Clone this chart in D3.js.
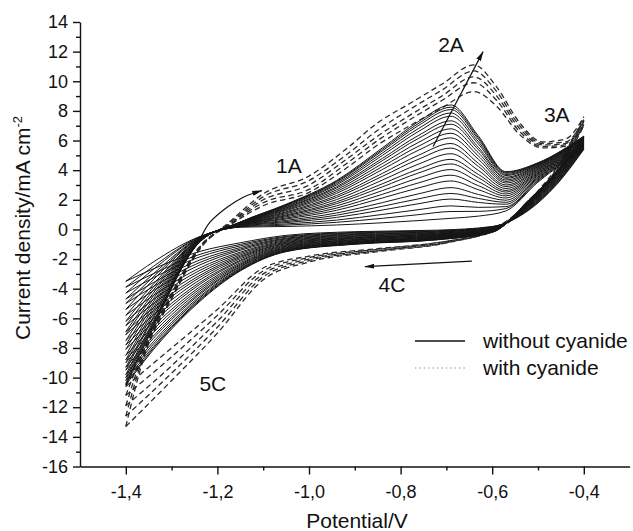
<!DOCTYPE html>
<html>
<head>
<meta charset="utf-8">
<script src="https://cdn.jsdelivr.net/npm/d3@7"></script>
<style>
  html, body { margin: 0; padding: 0; background: #fff; }
  svg { display: block; font-family: "Liberation Sans", Arial, Helvetica, sans-serif; }
</style>
</head>
<body>
<svg id="chart" width="633" height="531"></svg>
<script>
// Potential grids (V) for the anodic (forward) and cathodic (reverse) sweeps
const solidFwdE = [-1.4, -1.34, -1.24, -1.15, -1.05, -0.94, -0.84, -0.76, -0.69, -0.63, -0.57, -0.5, -0.4];
const solidRevE = [-0.4, -0.46, -0.52, -0.6, -0.72, -0.9, -1.05, -1.15, -1.24, -1.32, -1.4];

// Current density (mA cm-2), successive cycles without cyanide, anodic sweep
const solidFwd = [
  [-3.5, -2.2, -0.50, 0.15, 0.20, 0.30, 0.45, 0.60, 0.75, 0.90, 1.25, 3.20, 5.40],
  [-3.9, -2.5, -0.52, 0.17, 0.29, 0.48, 0.75, 1.00, 1.21, 1.22, 1.41, 3.28, 5.45],
  [-4.3, -2.7, -0.54, 0.19, 0.37, 0.63, 1.01, 1.34, 1.59, 1.49, 1.54, 3.34, 5.50],
  [-4.7, -3.0, -0.57, 0.21, 0.46, 0.81, 1.31, 1.74, 2.05, 1.82, 1.70, 3.42, 5.55],
  [-5.0, -3.2, -0.59, 0.23, 0.53, 0.96, 1.56, 2.07, 2.43, 2.09, 1.83, 3.49, 5.60],
  [-5.4, -3.4, -0.61, 0.24, 0.61, 1.11, 1.81, 2.41, 2.82, 2.36, 1.97, 3.55, 5.64],
  [-5.8, -3.7, -0.63, 0.27, 0.70, 1.29, 2.12, 2.81, 3.27, 2.68, 2.12, 3.63, 5.70],
  [-6.2, -3.9, -0.65, 0.28, 0.77, 1.44, 2.37, 3.15, 3.66, 2.95, 2.26, 3.69, 5.74],
  [-6.5, -4.1, -0.67, 0.30, 0.85, 1.59, 2.62, 3.48, 4.04, 3.22, 2.39, 3.76, 5.79],
  [-6.9, -4.3, -0.69, 0.32, 0.92, 1.74, 2.87, 3.82, 4.42, 3.49, 2.52, 3.82, 5.83],
  [-7.1, -4.5, -0.71, 0.33, 0.98, 1.86, 3.08, 4.08, 4.73, 3.71, 2.63, 3.88, 5.87],
  [-7.5, -4.7, -0.73, 0.35, 1.06, 2.01, 3.33, 4.42, 5.11, 3.98, 2.76, 3.94, 5.91],
  [-7.8, -4.9, -0.75, 0.37, 1.13, 2.16, 3.58, 4.75, 5.49, 4.25, 2.89, 4.01, 5.96],
  [-8.1, -5.1, -0.76, 0.38, 1.19, 2.28, 3.78, 5.02, 5.80, 4.46, 3.00, 4.06, 5.99],
  [-8.5, -5.3, -0.78, 0.40, 1.27, 2.43, 4.04, 5.36, 6.18, 4.73, 3.13, 4.12, 6.04],
  [-8.8, -5.5, -0.80, 0.41, 1.33, 2.55, 4.24, 5.63, 6.49, 4.95, 3.24, 4.18, 6.08],
  [-9.0, -5.7, -0.82, 0.43, 1.39, 2.67, 4.44, 5.89, 6.79, 5.17, 3.34, 4.23, 6.11],
  [-9.3, -5.9, -0.83, 0.44, 1.45, 2.79, 4.64, 6.16, 7.10, 5.38, 3.45, 4.28, 6.15],
  [-9.5, -6.0, -0.84, 0.45, 1.49, 2.88, 4.79, 6.36, 7.33, 5.54, 3.53, 4.32, 6.17],
  [-9.8, -6.2, -0.86, 0.47, 1.55, 3.00, 4.99, 6.63, 7.64, 5.76, 3.64, 4.37, 6.21],
  [-10.0, -6.3, -0.87, 0.48, 1.60, 3.09, 5.15, 6.83, 7.86, 5.92, 3.71, 4.41, 6.24],
  [-10.2, -6.4, -0.88, 0.49, 1.64, 3.18, 5.30, 7.03, 8.09, 6.08, 3.79, 4.45, 6.26],
  [-10.4, -6.5, -0.89, 0.49, 1.67, 3.24, 5.40, 7.17, 8.25, 6.19, 3.85, 4.47, 6.28],
  [-10.5, -6.6, -0.90, 0.50, 1.70, 3.30, 5.50, 7.30, 8.40, 6.30, 3.90, 4.50, 6.30]
];

// Same cycles, cathodic sweep
const solidRev = [
  [5.40, 3.00, 1.30, 0.20, -0.05, -0.15, -0.40, -0.90, -1.50, -2.40, -3.5],
  [5.45, 3.05, 1.34, 0.18, -0.09, -0.20, -0.47, -1.01, -1.70, -2.70, -3.9],
  [5.50, 3.10, 1.38, 0.16, -0.12, -0.24, -0.52, -1.11, -1.87, -2.95, -4.3],
  [5.55, 3.15, 1.42, 0.13, -0.16, -0.29, -0.59, -1.22, -2.08, -3.25, -4.7],
  [5.60, 3.20, 1.45, 0.11, -0.19, -0.34, -0.64, -1.32, -2.25, -3.50, -5.0],
  [5.64, 3.24, 1.49, 0.09, -0.23, -0.38, -0.70, -1.41, -2.42, -3.75, -5.4],
  [5.70, 3.30, 1.53, 0.07, -0.26, -0.43, -0.76, -1.53, -2.62, -4.05, -5.8],
  [5.74, 3.34, 1.57, 0.05, -0.30, -0.47, -0.82, -1.62, -2.79, -4.30, -6.2],
  [5.79, 3.39, 1.60, 0.03, -0.33, -0.52, -0.87, -1.72, -2.96, -4.55, -6.5],
  [5.83, 3.43, 1.64, 0.01, -0.36, -0.56, -0.93, -1.81, -3.13, -4.80, -6.9],
  [5.87, 3.47, 1.66, -0.01, -0.39, -0.59, -0.97, -1.89, -3.27, -5.00, -7.1],
  [5.91, 3.51, 1.70, -0.03, -0.42, -0.63, -1.03, -1.98, -3.44, -5.25, -7.5],
  [5.96, 3.56, 1.73, -0.05, -0.45, -0.68, -1.08, -2.08, -3.61, -5.50, -7.8],
  [5.99, 3.59, 1.76, -0.06, -0.48, -0.71, -1.13, -2.15, -3.74, -5.70, -8.1],
  [6.04, 3.64, 1.80, -0.08, -0.51, -0.75, -1.18, -2.25, -3.91, -5.95, -8.5],
  [6.08, 3.68, 1.83, -0.10, -0.54, -0.79, -1.23, -2.33, -4.05, -6.15, -8.8],
  [6.11, 3.71, 1.85, -0.12, -0.56, -0.82, -1.27, -2.40, -4.19, -6.35, -9.0],
  [6.15, 3.75, 1.88, -0.13, -0.59, -0.86, -1.31, -2.48, -4.32, -6.55, -9.3],
  [6.17, 3.77, 1.90, -0.14, -0.61, -0.88, -1.35, -2.53, -4.42, -6.70, -9.5],
  [6.21, 3.81, 1.93, -0.16, -0.64, -0.92, -1.39, -2.61, -4.56, -6.90, -9.8],
  [6.24, 3.84, 1.95, -0.17, -0.65, -0.94, -1.42, -2.67, -4.66, -7.05, -10.0],
  [6.26, 3.86, 1.97, -0.18, -0.67, -0.97, -1.46, -2.72, -4.76, -7.20, -10.2],
  [6.28, 3.88, 1.99, -0.19, -0.69, -0.98, -1.48, -2.76, -4.83, -7.30, -10.4],
  [6.30, 3.90, 2.00, -0.20, -0.70, -1.00, -1.50, -2.80, -4.90, -7.40, -10.5]
];

// Cycles with cyanide
const dashFwdE = [-1.4, -1.36, -1.3, -1.24, -1.17, -1.1, -1.0, -0.92, -0.85, -0.78, -0.71, -0.64, -0.59, -0.54, -0.49, -0.44, -0.4];
const dashRevE = [-0.4, -0.45, -0.5, -0.55, -0.6, -0.7, -0.85, -1.0, -1.1, -1.2, -1.3, -1.4];
const dashFwd = [
  [-10.6, -8.0, -4.3, -1.2, 0.35, 1.6, 2.5, 4.1, 5.7, 7.0, 8.2, 9.3, 8.3, 6.4, 5.5, 5.6, 7.0],
  [-11.2, -8.1, -4.4, -1.25, 0.40, 1.8, 2.7, 4.4, 6.0, 7.4, 8.7, 9.9, 8.7, 6.6, 5.6, 5.7, 7.1],
  [-11.9, -8.2, -4.5, -1.3, 0.45, 2.0, 3.0, 4.7, 6.3, 7.7, 9.0, 10.3, 9.0, 6.8, 5.7, 5.8, 7.3],
  [-12.6, -8.4, -4.6, -1.35, 0.50, 2.2, 3.3, 5.0, 6.7, 8.1, 9.4, 10.7, 9.3, 7.0, 5.8, 5.9, 7.4],
  [-13.3, -8.6, -4.7, -1.4, 0.60, 2.4, 3.6, 5.4, 7.2, 8.5, 9.8, 11.1, 9.6, 7.2, 5.9, 6.1, 7.6]
];
const dashRev = [
  [7.0, 4.2, 2.30, 0.80, -0.15, -0.80, -1.30, -1.8, -2.6, -5.4, -8.0, -10.6],
  [7.1, 4.3, 2.40, 0.85, -0.10, -0.80, -1.35, -1.9, -2.8, -5.8, -8.6, -11.2],
  [7.3, 4.4, 2.45, 0.90, -0.10, -0.85, -1.40, -2.0, -3.0, -6.2, -9.2, -11.9],
  [7.4, 4.5, 2.50, 0.95, -0.05, -0.90, -1.45, -2.1, -3.2, -6.6, -9.7, -12.6],
  [7.6, 4.6, 2.60, 1.00, 0.00, -0.90, -1.50, -2.2, -3.4, -7.0, -10.2, -13.3]
];

// Axis ticks
const xTicks = [-1.4, -1.2, -1.0, -0.8, -0.6, -0.4];
const xMinor = [-1.3, -1.1, -0.9, -0.7, -0.5];
const yTicks = [-16, -14, -12, -10, -8, -6, -4, -2, 0, 2, 4, 6, 8, 10, 12, 14];
const yMinor = [-15, -13, -11, -9, -7, -5, -3, -1, 1, 3, 5, 7, 9, 11, 13];

// Peak labels (potential, current density)
const peakNames = ["1A", "2A", "3A", "4C", "5C"];
const peakE = [-1.044, -0.690, -0.459, -0.819, -1.210];
const peakJ = [3.82, 11.98, 7.26, -4.20, -10.88];

// Scan-direction arrows (potential, current density)
const arrow1A = [[-1.238, -0.67], [-1.2166, 0.47], [-1.1795, 1.48], [-1.1445, 2.16], [-1.103, 2.62]];
const arrow2A = [[-0.729, 5.6], [-0.620, 12.0]];
const arrow4C = [[-0.6445, -2.14], [-0.878, -2.51]];

const legendNames = ["without cyanide", "with cyanide"];

const svg = d3.select("#chart");
const x = d3.scaleLinear().domain([-1.5, -0.3]).range([80, 629.6]);
const y = d3.scaleLinear().domain([-16, 14]).range([466.5, 22]);

const defs = svg.append("defs");
defs.append("marker")
  .attr("id", "head")
  .attr("viewBox", "0 0 10 6")
  .attr("refX", 9.5).attr("refY", 3)
  .attr("markerUnits", "userSpaceOnUse")
  .attr("markerWidth", 10).attr("markerHeight", 6)
  .attr("orient", "auto")
  .append("path").attr("d", "M0,0.5 L10,3 L0,5.5 Z").attr("fill", "#111");

// Sweep path builder: points are ordered by potential so monotone smoothing applies
const sweep = d3.line()
  .x(d => x(d[0]))
  .y(d => y(d[1]))
  .curve(d3.curveMonotoneX);

function pairs(E, J) {
  return E.map((e, i) => [e, J[i]]).sort((a, b) => a[0] - b[0]);
}

const curves = svg.append("g").attr("fill", "none");

// with cyanide (drawn first, the solid bundle sits over it)
dashFwd.forEach((row, c) => {
  curves.append("path")
    .attr("d", sweep(pairs(dashFwdE, row)))
    .attr("stroke", "#2a2a2a").attr("stroke-width", 1.3)
    .attr("stroke-dasharray", "5.5,3.5");
  curves.append("path")
    .attr("d", sweep(pairs(dashRevE, dashRev[c])))
    .attr("stroke", "#2a2a2a").attr("stroke-width", 1.3)
    .attr("stroke-dasharray", "5.5,3.5");
});

// without cyanide
solidFwd.forEach((row, c) => {
  curves.append("path")
    .attr("d", sweep(pairs(solidFwdE, row)))
    .attr("stroke", "#151515").attr("stroke-width", 1.0);
  curves.append("path")
    .attr("d", sweep(pairs(solidRevE, solidRev[c])))
    .attr("stroke", "#151515").attr("stroke-width", 1.0);
});

// Axes
const axisColor = "#111";
function styleAxis(g) {
  g.select(".domain").attr("stroke", axisColor).attr("stroke-width", 1.4);
  g.selectAll(".tick line").attr("stroke", axisColor).attr("stroke-width", 1.4);
  g.selectAll(".tick text").attr("fill", "#111").style("font-size", "18px")
    .style("font-family", '"Liberation Sans", Arial, sans-serif');
}
const fmtX = d => (d < 0 ? "-" : "") + Math.abs(d).toFixed(1).replace(".", ",");
const fmtY = d => (d < 0 ? "-" : "") + Math.abs(d);

svg.append("g")
  .attr("transform", `translate(0,${y(-16)})`)
  .call(d3.axisBottom(x).tickValues(xMinor).tickSize(4).tickFormat(""))
  .call(g => g.select(".domain").remove())
  .call(styleAxis);
svg.append("g")
  .attr("transform", `translate(${x(-1.5)},0)`)
  .call(d3.axisLeft(y).tickValues(yMinor).tickSize(4).tickFormat(""))
  .call(g => g.select(".domain").remove())
  .call(styleAxis);

svg.append("g")
  .attr("transform", `translate(0,${y(-16)})`)
  .call(d3.axisBottom(x).tickValues(xTicks).tickSize(8).tickSizeOuter(0).tickPadding(11).tickFormat(fmtX))
  .call(styleAxis);
svg.append("g")
  .attr("transform", `translate(${x(-1.5)},0)`)
  .call(d3.axisLeft(y).tickValues(yTicks).tickSize(7).tickSizeOuter(0).tickPadding(5).tickFormat(fmtY))
  .call(styleAxis);

// Axis titles
svg.append("text")
  .attr("x", 357).attr("y", 528)
  .attr("text-anchor", "middle")
  .style("font-size", "21px").attr("fill", "#111")
  .text("Potential/V");

const yTitle = svg.append("text")
  .attr("transform", "translate(30,228) rotate(-90)")
  .attr("text-anchor", "middle")
  .style("font-size", "21px").attr("fill", "#111");
yTitle.append("tspan").text("Current density/mA cm");
yTitle.append("tspan").attr("dy", -8).style("font-size", "13px").text("-2");

// Arrows
svg.append("path")
  .attr("d", d3.line().x(d => x(d[0])).y(d => y(d[1])).curve(d3.curveCatmullRom)(arrow1A))
  .attr("fill", "none").attr("stroke", "#111").attr("stroke-width", 1.2)
  .attr("marker-end", "url(#head)");
[arrow2A, arrow4C].forEach(a => {
  svg.append("line")
    .attr("x1", x(a[0][0])).attr("y1", y(a[0][1]))
    .attr("x2", x(a[1][0])).attr("y2", y(a[1][1]))
    .attr("stroke", "#111").attr("stroke-width", 1.2)
    .attr("marker-end", "url(#head)");
});

// Peak labels
svg.append("g").selectAll("text")
  .data(peakNames)
  .join("text")
  .attr("x", (d, i) => x(peakE[i]))
  .attr("y", (d, i) => y(peakJ[i]))
  .attr("text-anchor", "middle")
  .style("font-size", "21px").attr("fill", "#111")
  .text(d => d);

// Legend
const legend = svg.append("g").attr("transform", "translate(415,341)");
legend.append("line").attr("x1", 0).attr("x2", 50).attr("y1", 0).attr("y2", 0)
  .attr("stroke", "#111").attr("stroke-width", 1.6);
legend.append("line").attr("x1", 0).attr("x2", 50).attr("y1", 27).attr("y2", 27)
  .attr("stroke", "#8a8a8a").attr("stroke-width", 1.2).attr("stroke-dasharray", "1.4,3");
legend.selectAll("text")
  .data(legendNames)
  .join("text")
  .attr("x", 68)
  .attr("y", (d, i) => 7 + i * 27)
  .style("font-size", "21px").attr("fill", "#111")
  .text(d => d);
</script>
</body>
</html>
